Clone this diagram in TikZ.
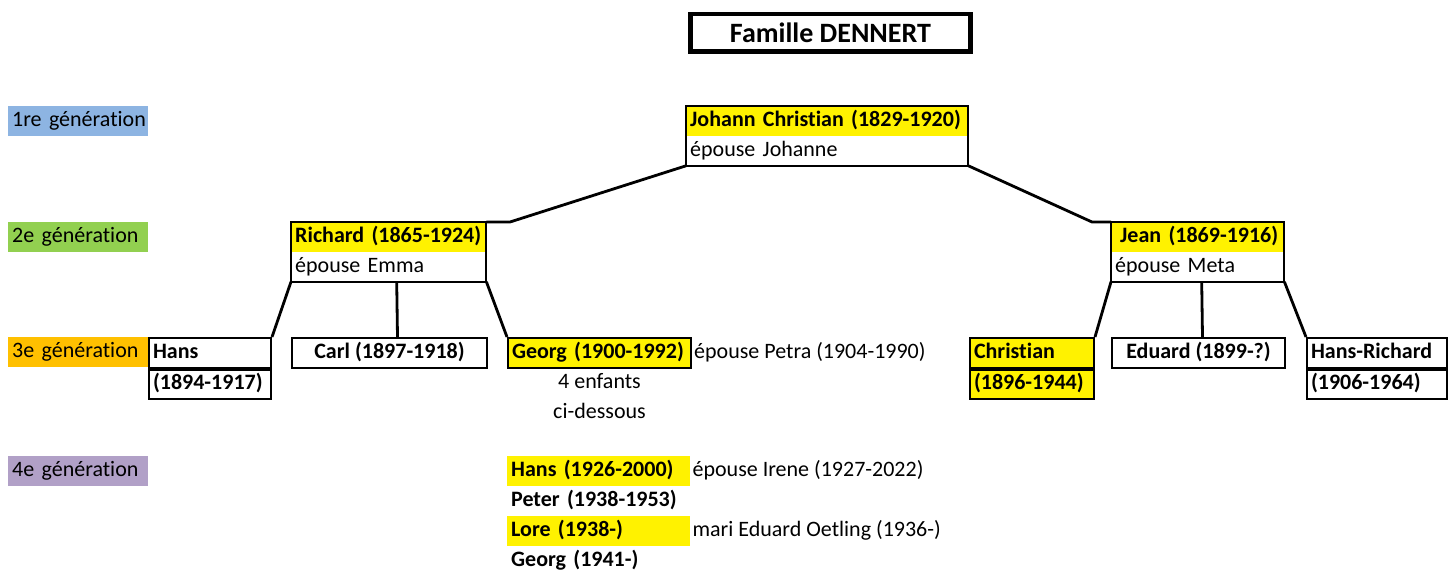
\documentclass[tikz,border=0pt]{standalone}
\usepackage{fontspec}
\setmainfont{Carlito}[Ligatures=NoCommon]
\usepackage{xcolor}
\usepackage{tikz}
\usetikzlibrary{positioning}
\definecolor{genblue}{HTML}{8DB4E2}
\definecolor{gengreen}{HTML}{92D050}
\definecolor{genorange}{HTML}{FFC000}
\definecolor{genpurple}{HTML}{B1A0C7}
\tikzstyle{cell} = [rectangle, anchor=north west, inner xsep=4, inner ysep=0, minimum height=29.5, text height=16, text depth=5, align=left, draw=none, execute at begin node=\hbox\bgroup, execute at end node=\egroup]
\tikzstyle{person} = [cell, font=\bfseries]
\tikzstyle{gencell} = [cell, text width=132]
\tikzstyle{boxed} = [draw=black, line width=2]
\tikzstyle{hl} = [fill=yellow]
\tikzstyle{link} = [-, draw=black, line width=2.8]
\tikzstyle{titlebox} = [rectangle, anchor=north west, draw=black, line width=4.5, minimum width=280, minimum height=37.4, inner sep=0, font=\fontsize{28}{32}\selectfont\bfseries]

\begin{document}
\fontsize{22}{26}\selectfont
\begin{tikzpicture}[x=1pt, y=-1pt]
\useasboundingbox (0,0) rectangle (1451,570);

\node [titlebox] (titre) at (688.2, 11.8) {Famille DENNERT};

% generations
\node [gencell, fill=genblue] (gen1) at (8, 106) {1re génération};
\node [gencell, fill=gengreen] (gen2) at (8, 222) {2e génération};
\node [gencell, fill=genorange] (gen3) at (8, 337) {3e génération};
\node [gencell, fill=genpurple] (gen4) at (8, 456) {4e génération};

% 1re generation
\node [person, hl, text width=274] (johann) at (686, 106) {Johann Christian (1829-1920)};
\node [cell, text width=274, below=0pt of johann] (johannw) {épouse Johanne};
\draw [boxed] (johann.north west) rectangle (johannw.south east);

% 2e generation
\node [person, hl, text width=187] (richard) at (291, 222) {Richard (1865-1924)};
\node [cell, text width=187, below=0pt of richard] (richardw) {épouse Emma};
\draw [boxed] (richard.north west) rectangle (richardw.south east);
\node [person, hl, text width=165] (jean) at (1111, 222) {\hspace{5pt}Jean (1869-1916)};
\node [cell, text width=165, below=0pt of jean] (jeanw) {épouse Meta};
\draw [boxed] (jean.north west) rectangle (jeanw.south east);

\coordinate (kinkL) at (510, 222);
\coordinate (kinkR) at (1092, 222);
\draw [link] (johannw.south west) -- (kinkL) -- (richard.north east);
\draw [link] (johannw.south east) -- (kinkR) -- (jean.north west);

% 3e generation
\node [person, boxed, text width=114] (hans) at (148, 337) {Hans};
\node [person, boxed, text width=114, below=0pt of hans] (hansd) {(1894-1917)};
\node [person, boxed, minimum width=195] (carl) at (291, 337) {Carl (1897-1918)};
\node [person, boxed, hl, text width=175] (georg) at (507, 337) {Georg (1900-1992)};
\node [cell, inner xsep=2, right=0pt of georg] (petra) {épouse Petra (1904-1990)};
\node [cell, minimum width=183, below=0pt of georg] (enfants) {4 enfants};
\node [cell, minimum width=183, below=0pt of enfants] (dessous) {ci-dessous};
\node [person, boxed, hl, text width=116] (christian) at (969, 337) {Christian};
\node [person, boxed, hl, text width=116, below=0pt of christian] (christiand) {(1896-1944)};
\node [person, boxed, minimum width=173] (eduard) at (1111, 337) {Eduard (1899-?)};
\node [person, boxed, text width=132] (hansr) at (1306, 337) {Hans-Richard};
\node [person, boxed, text width=132, below=0pt of hansr] (hansrd) {(1906-1964)};

\draw [link] (richardw.south west) -- (hans.north east);
\draw [link] ([xshift=8]richardw.south) -- ([xshift=8]carl.north);
\draw [link] (richardw.south east) -- (georg.north west);
\draw [link] (jeanw.south west) -- (christian.north east);
\draw [link] ([xshift=4]jeanw.south) -- ([xshift=4]eduard.north);
\draw [link] (jeanw.south east) -- (hansr.north west);

% 4e generation
\node [person, hl, text width=175] (hans2) at (507, 456) {Hans (1926-2000)};
\node [cell, inner xsep=2, right=0pt of hans2] (irene) {épouse Irene (1927-2022)};
\node [person, text width=175, below=0pt of hans2] (peter) {Peter (1938-1953)};
\node [person, hl, text width=175, below=0pt of peter] (lore) {Lore (1938-)};
\node [cell, inner xsep=2, right=0pt of lore] (oetling) {mari Eduard Oetling (1936-)};
\node [person, text width=175, below=0pt of lore] (georg2) {Georg (1941-)};
\end{tikzpicture}
\end{document}
